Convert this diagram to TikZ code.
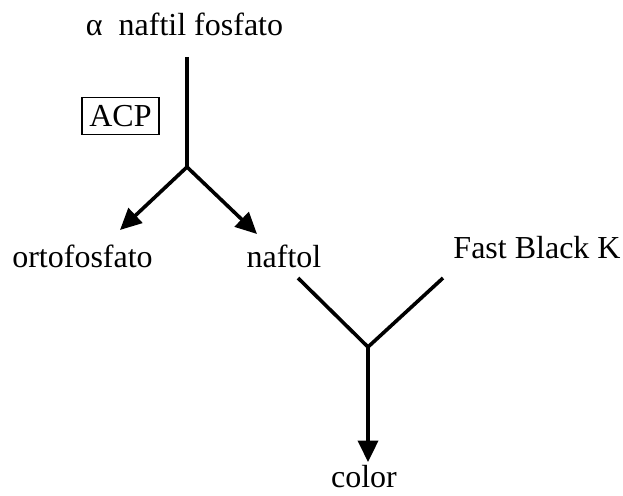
\documentclass[tikz,border=0pt]{standalone}
\usepackage{fontspec}
\setmainfont{Liberation Serif}
\usetikzlibrary{arrows.meta}
\begin{document}
\begin{tikzpicture}[x=0.75pt,y=-0.75pt,
  chem/.style={font=\fontsize{24}{28}\selectfont, inner sep=0pt, anchor=base},
  bond/.style={line width=2.7pt},
  react/.style={bond, -{Triangle[length=16pt,width=15pt]}},
  enzyme/.style={draw, line width=0.9pt, font=\fontsize{24}{28}\selectfont,
    minimum width=57.75pt, minimum height=28pt, inner sep=0pt}]
\useasboundingbox (0,0) rectangle (623,495);

% substrate, enzyme and products
\node[chem] (sub)  at (184.5,36)  {α\hspace{0.5em}naftil fosfato};
\node[enzyme] (acp) at (120.5,116) {ACP};
\node[chem] (orto) at (82.5,267)  {ortofosfato};
\node[chem] (naf)  at (284,267)   {naftol};
\node[chem] (fbk)  at (537,258)   {Fast Black K};
\node[chem] (col)  at (364,487)   {color};

% hydrolysis branch
\coordinate (subEnd) at (187,57);
\coordinate (j1)     at (187,167);
\coordinate (ortoIn) at (120,230);
\coordinate (nafIn)  at (257,234);
\draw[bond] (subEnd) -- (j1);
\draw[react] (j1) -- (ortoIn);
\draw[react] (j1) -- (nafIn);

% coupling branch
\coordinate (nafOut) at (298,278);
\coordinate (fbkOut) at (443,278);
\coordinate (j2)     at (368,347);
\coordinate (colIn)  at (368,462);
\draw[bond, line join=miter] (nafOut) -- (j2) -- (fbkOut);
\draw[react] (j2) -- (colIn);
\end{tikzpicture}
\end{document}
